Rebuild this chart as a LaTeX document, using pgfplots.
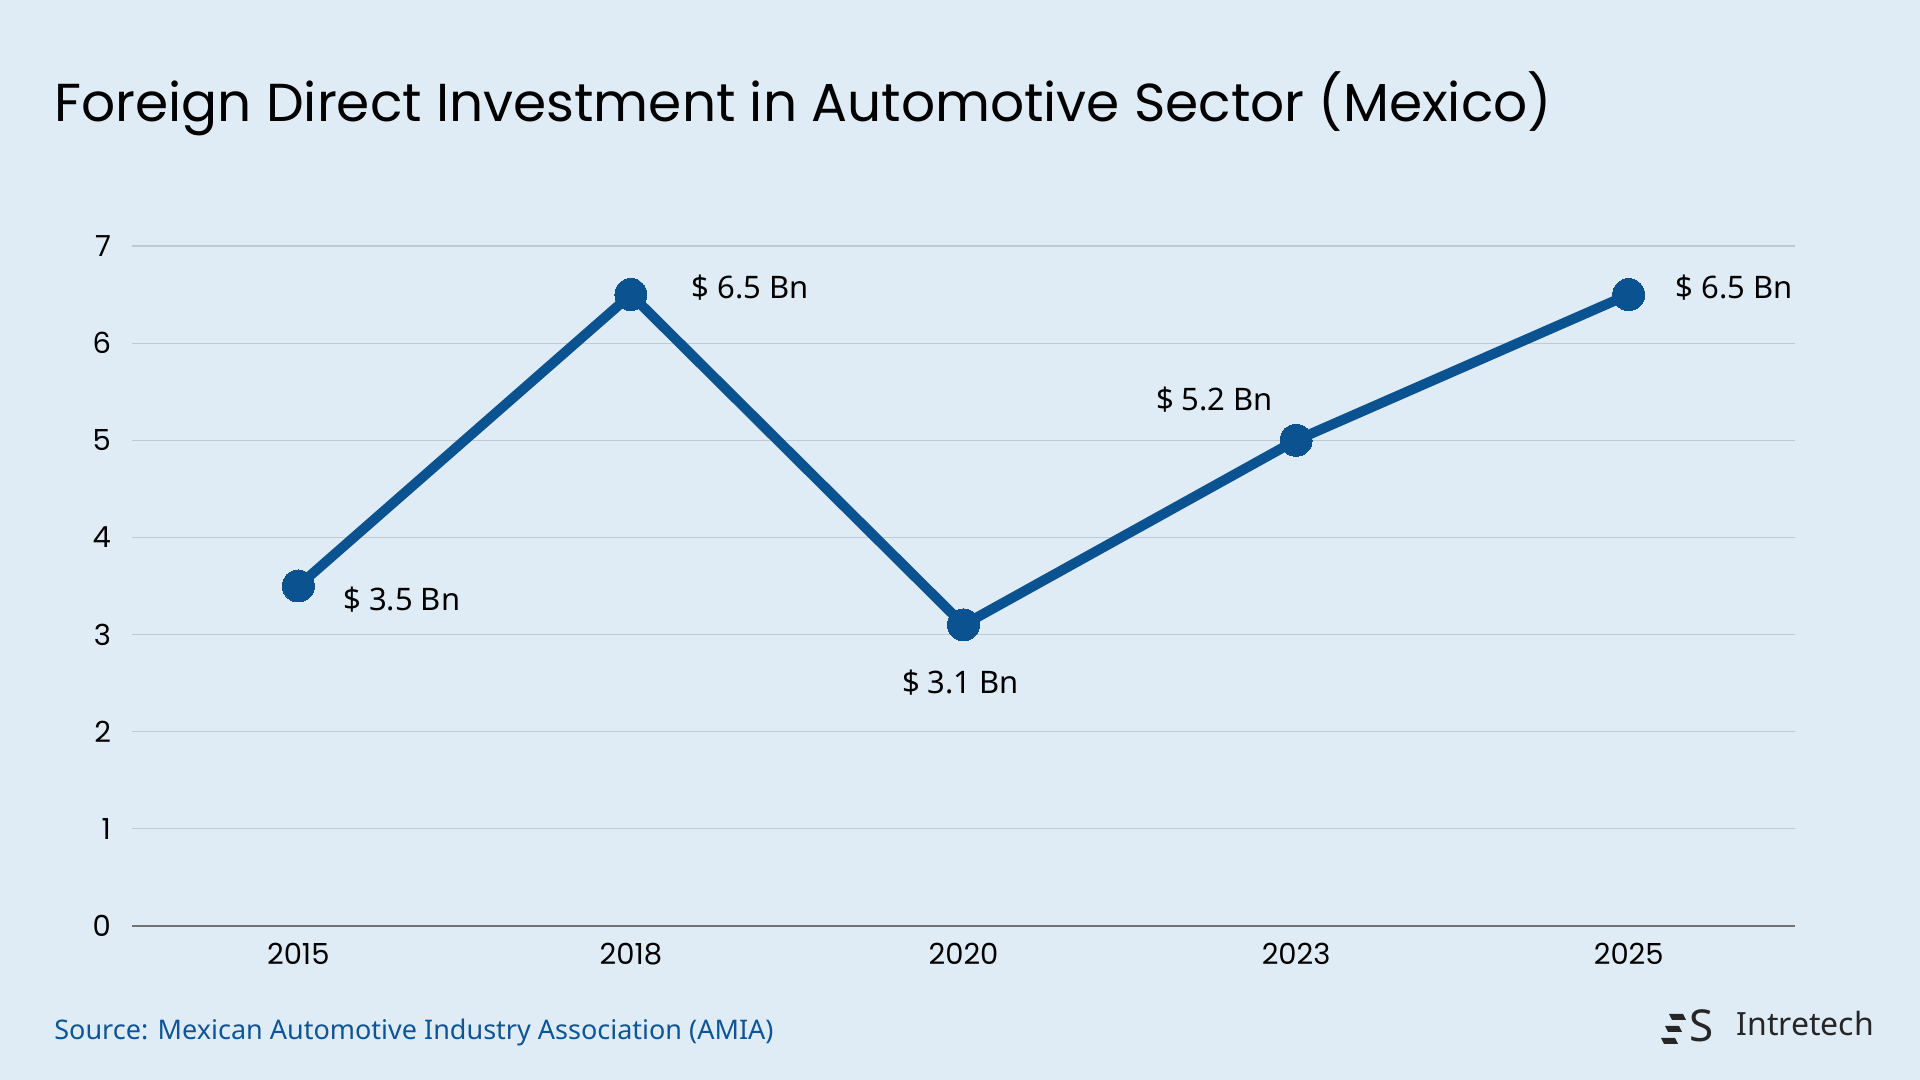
\documentclass[border=0pt]{standalone}
\usepackage{fontspec}
\setmainfont{Poppins}
\newfontfamily\lab{Noto Sans}
\usepackage{pgfplots}
\pgfplotsset{compat=1.18}
\definecolor{bg}{RGB}{224,236,245}
\definecolor{serie}{RGB}{11,82,145}
\definecolor{gridc}{RGB}{190,201,211}
\definecolor{src}{RGB}{13,85,150}
\begin{document}
\begin{tikzpicture}
\fill[bg] (0,0) rectangle (960pt,540pt);
\node[anchor=base west, inner sep=0pt, font=\fontsize{26.7}{30}\selectfont] at (27pt,479pt) {Foreign Direct Investment in Automotive Sector (Mexico)};
\begin{axis}[
  at={(66pt,77pt)}, anchor=south west, scale only axis,
  width=831.5pt, height=340pt,
  xmin=-0.5, xmax=4.5, ymin=0, ymax=7,
  xtick={0,...,4}, xticklabels={2015,2018,2020,2023,2025},
  ytick={0,...,7},
  axis x line*=bottom, axis y line*=left,
  axis line style={-},
  x axis line style={draw=black!55, line width=0.8pt},
  y axis line style={draw=none},
  major tick length=0pt,
  ymajorgrids, grid style={gridc, line width=0.6pt},
  ticklabel style={font=\fontsize{14.5}{17}\selectfont},
  /pgf/number format/assume math mode=true,
  xticklabel style={yshift=-5pt},
  yticklabel style={xshift=-7pt},
  clip=false,
]
\addplot[serie, line width=5pt, mark=*, mark size=8pt, mark options={fill=serie, draw=serie, line width=0pt}]
  coordinates {(0,3.5) (1,6.5) (2,3.1) (3,5.0) (4,6.5)};
\node[anchor=west, font=\fontsize{15.5}{18}\selectfont\lab] at (axis cs:0,3.5) [xshift=19pt, yshift=-7pt] {\$ 3.5 Bn};
\node[anchor=west, font=\fontsize{15.5}{18}\selectfont\lab] at (axis cs:1,6.5) [xshift=27pt, yshift=3.5pt] {\$ 6.5 Bn};
\node[anchor=center, font=\fontsize{15.5}{18}\selectfont\lab] at (axis cs:2,3.1) [xshift=-1.5pt, yshift=-29pt] {\$ 3.1 Bn};
\node[anchor=east, font=\fontsize{15.5}{18}\selectfont\lab] at (axis cs:3,5.0) [xshift=-8pt, yshift=20.5pt] {\$ 5.2 Bn};
\node[anchor=west, font=\fontsize{15.5}{18}\selectfont\lab] at (axis cs:4,6.5) [xshift=20pt, yshift=3.5pt] {\$ 6.5 Bn};
\end{axis}
\node[anchor=west, inner sep=0pt, text=src, font=\fontsize{13.5}{16}\selectfont\lab] at (27pt,24pt) {Source: Mexican Automotive Industry Association (AMIA)};
% logo
\node[anchor=west, inner sep=0pt, text=black!85, font=\fontsize{16}{18}\selectfont\lab] at (868pt,28pt) {Intretech};
\node[anchor=center, inner sep=0pt, text=black!85, font=\fontsize{22}{24}\bfseries\lab] at (851pt,27pt) {S};
\fill[black!85] (836pt,30pt) -- (843pt,30pt) -- (841.5pt,33pt) -- (834.5pt,33pt) -- cycle;
\fill[black!85] (834pt,24pt) -- (841pt,24pt) -- (839.5pt,27pt) -- (832.5pt,27pt) -- cycle;
\fill[black!85] (832pt,18pt) -- (839pt,18pt) -- (837.5pt,21pt) -- (830.5pt,21pt) -- cycle;
\end{tikzpicture}
\end{document}
